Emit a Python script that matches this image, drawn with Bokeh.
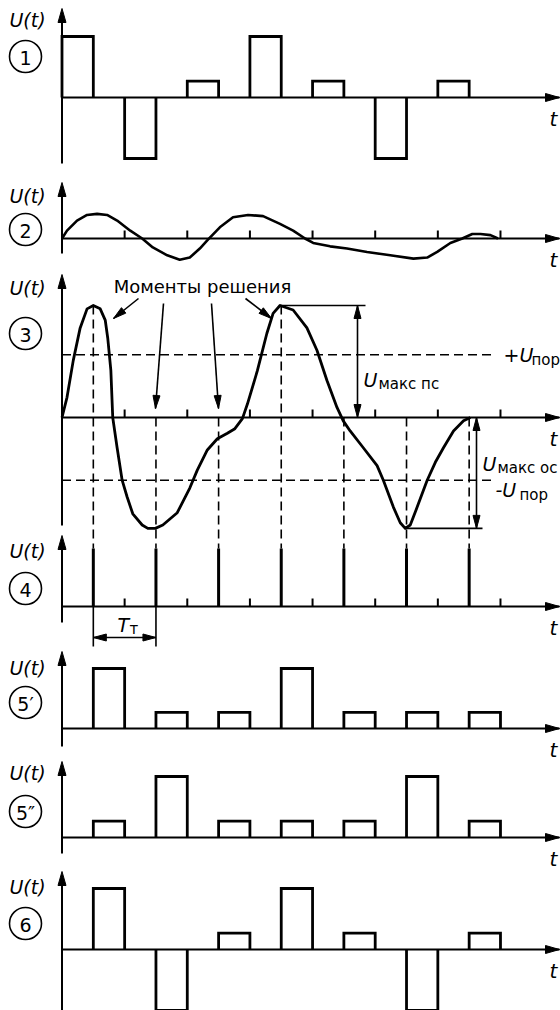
from bokeh.plotting import figure
from bokeh.models import Range1d
from bokeh.embed import file_html
from bokeh.resources import INLINE
from bokeh.core.properties import value

FONT = "DejaVu Sans"

# ---------------- data (time in clock periods, U in relative units) ----------------
period_start = [0, 1, 2, 3, 4, 5, 6]
decision_t = [0.5, 1.5, 2.5, 3.5, 4.5, 5.5, 6.5]
tick_t = [1, 2, 3, 4, 5, 6, 7]
pulse_width = 0.5

sig_1 = [1, -1, 0.27, 1, 0.27, -1, 0.27]
sample_4 = [1, 1, 1, 1, 1, 1, 1]
sig_5a = [1, 0.27, 0.27, 1, 0.27, 0.27, 0.27]
sig_5b = [0.27, 1, 0.27, 0.27, 0.27, 1, 0.27]
sig_6 = [1, -1, 0.27, 1, 0.27, -1, 0.27]

curve2_t = [0, 0.08, 0.24, 0.40, 0.56, 0.72, 0.88, 1.09, 1.28, 1.45, 1.68, 1.88, 2.04,
            2.20, 2.33, 2.52, 2.73, 2.97, 3.21, 3.48, 3.69, 3.88, 4.01, 4.28, 4.55, 4.87,
            5.24, 5.61, 5.83, 5.99, 6.20, 6.39, 6.55, 6.68, 6.84, 6.96]
curve2_u = [0, 0.07, 0.16, 0.21, 0.22, 0.21, 0.16, 0.07, 0.0, -0.08, -0.15, -0.19, -0.17,
            -0.09, -0.01, 0.10, 0.19, 0.21, 0.20, 0.13, 0.07, 0.0, -0.04, -0.07, -0.09, -0.12,
            -0.15, -0.18, -0.17, -0.12, -0.04, 0.0, 0.04, 0.04, 0.03, 0.0]

curve3_t = [0, 0.08, 0.18, 0.29, 0.40, 0.50, 0.61, 0.69, 0.73, 0.78, 0.81, 0.88, 0.96, 1.04,
            1.13, 1.28, 1.37, 1.49, 1.61, 1.84, 2.04, 2.16, 2.32, 2.48, 2.64, 2.76, 2.88, 2.96,
            3.12, 3.27, 3.37, 3.48, 3.69, 3.91, 4.07, 4.23, 4.39, 4.49, 4.60, 4.81, 5.03, 5.13,
            5.29, 5.40, 5.48, 5.56, 5.67, 5.83, 5.96, 6.09, 6.25, 6.41, 6.52]
curve3_u = [0, 0.18, 0.51, 0.80, 0.97, 1.0, 0.97, 0.87, 0.71, 0.42, 0.0, -0.27, -0.56, -0.71,
            -0.86, -0.96, -0.99, -0.99, -0.96, -0.85, -0.63, -0.47, -0.29, -0.19, -0.14, -0.10,
            -0.01, 0.12, 0.42, 0.75, 0.93, 1.0, 0.96, 0.80, 0.60, 0.33, 0.09, -0.03, -0.12,
            -0.27, -0.43, -0.56, -0.80, -0.94, -0.99, -0.96, -0.80, -0.56, -0.40, -0.27, -0.12,
            -0.03, 0.0]

decision_u = [1.0, -0.99, -0.19, 1.0, -0.03, -0.99, 0.0]
u_thr = 0.56
u_max_ps, u_max_ps_t = 1.0, 3.48
u_max_os, u_max_os_t = -0.99, 5.48

# ---------------- layout (pixels) ----------------
W, H = 560, 1010
X0, TPX = 61.5, 62.64
X_END = 559
PANEL = {"p1": (97, 61), "p2": (238, 112), "p3": (417, 112), "p4": (606, 58),
         "p5a": (728, 60), "p5b": (837, 61), "p6": (949, 61)}
VAXIS = {"p1": (8, 163), "p2": (182, 253), "p3": (274, 525), "p4": (535, 622),
         "p5a": (651, 746), "p5b": (761, 853), "p6": (871, 1010)}
ULABEL_Y = {"p1": 19, "p2": 195, "p3": 287, "p4": 550, "p5a": 667, "p5b": 772, "p6": 886}
CIRCLE_Y = {"p1": 56, "p2": 229, "p3": 333, "p4": 588, "p5a": 702, "p5b": 811, "p6": 923}
CIRCLE_TXT = {"p1": "1", "p2": "2", "p3": "3", "p4": "4", "p5a": "5\u2032", "p5b": "5\u2033", "p6": "6"}

p = figure(width=W, height=H, x_range=Range1d(-X0 / TPX, (W - X0) / TPX), y_range=Range1d(H, 0),
           x_axis_location=None, y_axis_location=None, toolbar_location=None,
           output_backend="svg", min_border=0)
p.outline_line_color = None
p.background_fill_color = "white"
p.border_fill_color = "white"
p.xgrid.grid_line_color = None
p.ygrid.grid_line_color = None
p.grid.visible = False
p.extra_x_ranges = {"sx": Range1d(0, W)}
p.extra_y_ranges = {k: Range1d((Y - H) / S, Y / S) for k, (Y, S) in PANEL.items()}


def px(t):
    return X0 + t * TPX


def py(k, v):
    Y, S = PANEL[k]
    return Y - v * S


hx, hy = [], []


def head(x, y, dx, dy, L=13, Wd=7):
    n = (dx * dx + dy * dy) ** 0.5
    dx, dy = dx / n, dy / n
    bx, by = x - dx * L, y - dy * L
    nx, ny = -dy, dx
    hx.append([x, bx + nx * Wd / 2, bx - nx * Wd / 2])
    hy.append([y, by + ny * Wd / 2, by - ny * Wd / 2])


# axes
ax_xs, ax_ys = [], []
for k, (Y, S) in PANEL.items():
    top, bot = VAXIS[k]
    ax_xs += [[X0, X0], [X0, X_END]]
    ax_ys += [[bot, top + 4], [Y, Y]]
    head(X0, top, 0, -1, L=14, Wd=8)
    head(X_END, Y, 1, 0, L=14, Wd=8)
p.multi_line(ax_xs, ax_ys, x_range_name="sx", line_width=2, line_color="black")

# ticks
for k in ["p2", "p3", "p4"]:
    Y, S = PANEL[k]
    p.segment(x0=tick_t, y0=[0] * len(tick_t), x1=tick_t, y1=[8 / S] * len(tick_t),
              y_range_name=k, line_width=2, line_color="black")


def draw_pulses(k, starts, vals, lw=2.8):
    xs = [[s, s, s + pulse_width, s + pulse_width] for s in starts]
    ys = [[0, v, v, 0] for v in vals]
    p.multi_line(xs, ys, y_range_name=k, line_width=lw, line_color="black", line_join="miter")


draw_pulses("p1", period_start, sig_1)
draw_pulses("p5a", decision_t, sig_5a)
draw_pulses("p5b", decision_t, sig_5b)
draw_pulses("p6", decision_t, sig_6)
p.segment(x0=decision_t, y0=[0] * 7, x1=decision_t, y1=sample_4, y_range_name="p4",
          line_width=3, line_color="black")

p.line(curve2_t, curve2_u, y_range_name="p2", line_width=2.6, line_color="black", line_join="round")
p.line(curve3_t, curve3_u, y_range_name="p3", line_width=2.8, line_color="black", line_join="round")

# thresholds
THR_END = (493 - X0) / TPX
p.segment(x0=[0, 0], y0=[u_thr, -u_thr], x1=[THR_END, THR_END], y1=[u_thr, -u_thr],
          y_range_name="p3", line_dash="9 5", line_width=1.6, line_color="black")

# decision-moment verticals (panel 3 down to tops of panel 4 pulses)
Y3, S3 = PANEL["p3"]
bottoms = [(Y3 - py("p4", s)) / S3 for s in sample_4]
p.segment(x0=decision_t, y0=[max(v, 0) for v in decision_u], x1=decision_t, y1=bottoms,
          y_range_name="p3", line_dash="9 5", line_width=1.6, line_color="black")

# U max levels
PS_END = (365 - X0) / TPX
OS_END = (482 - X0) / TPX
p.segment(x0=[u_max_ps_t, u_max_os_t], y0=[u_max_ps, u_max_os], x1=[PS_END, OS_END],
          y1=[u_max_ps, u_max_os], y_range_name="p3", line_width=1.6, line_color="black")

ln_xs, ln_ys = [], []


def dbl_arrow(x0, y0, x1, y1):
    ln_xs.append([x0, x1])
    ln_ys.append([y0, y1])
    head(x0, y0, x0 - x1, y0 - y1)
    head(x1, y1, x1 - x0, y1 - y0)


def arrow(x0, y0, x1, y1):
    ln_xs.append([x0, x1])
    ln_ys.append([y0, y1])
    head(x1, y1, x1 - x0, y1 - y0)


ax_ps = px((357 - X0) / TPX)
dbl_arrow(ax_ps, py("p3", u_max_ps), ax_ps, py("p3", 0))
ax_os = px((476 - X0) / TPX)
dbl_arrow(ax_os, py("p3", 0), ax_os, py("p3", u_max_os))

# "Моменты решения" arrows
arrow(138, 298, 113, 318)
arrow(163, 303, 155, 408)
arrow(211, 303, 218, 408)
arrow(245, 298, 271, 318)

# T_T dimension
for t in (decision_t[0], decision_t[1]):
    ln_xs.append([px(t), px(t)])
    ln_ys.append([py("p4", 0), 646])
dbl_arrow(px(decision_t[0]), 637, px(decision_t[1]), 637)

p.multi_line(ln_xs, ln_ys, x_range_name="sx", line_width=1.6, line_color="black")
p.patches(hx, hy, x_range_name="sx", fill_color="black", line_color="black", line_width=1)

# circles with panel numbers
p.scatter(x=[25] * len(CIRCLE_Y), y=list(CIRCLE_Y.values()), x_range_name="sx", size=32,
          marker="circle", fill_color=None, line_color="black", line_width=1.6)


def txt(x, y, s, size=19, style="normal", align="left", baseline="middle"):
    p.text(x=[x], y=[y], text=[s], x_range_name="sx", text_font=value(FONT),
           text_font_size=f"{size}px", text_font_style=style, text_align=align,
           text_baseline=baseline, text_color="black")


for k in PANEL:
    txt(27, ULABEL_Y[k], "U(t)", size=19, style="italic", align="center")
    txt(25, CIRCLE_Y[k] + 1, CIRCLE_TXT[k], size=19, align="center")
    txt(553, PANEL[k][0] + 21, "t", size=20, style="italic", align="center")

txt(202, 286, "Моменты решения", size=18, align="center")
txt(363, 379, "U", size=19, style="italic")
txt(378, 383, "макс пс", size=15)
txt(482, 463, "U", size=19, style="italic")
txt(497, 467, "макс ос", size=15)
txt(503, 354, "+U", size=19, style="italic")
txt(531, 359, "пор", size=15)
txt(495, 489, "-U", size=19, style="italic")
txt(519, 494, "пор", size=15)
txt(117, 624, "T", size=19, style="italic")
txt(129, 628, "т", size=15)

open("out.html", "w").write(file_html(p, INLINE))
